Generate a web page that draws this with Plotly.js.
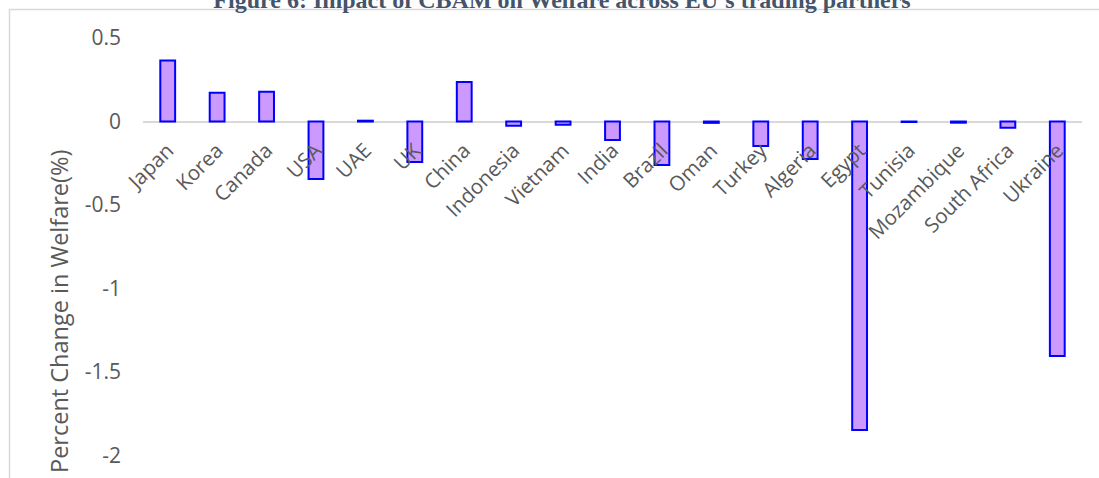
<!DOCTYPE html>
<html>
<head>
<meta charset="utf-8">
<script src="https://cdn.plot.ly/plotly-3.0.1.min.js"></script>
<style>html,body{margin:0;padding:0;background:#fff;}#chart{width:1099px;height:478px;}</style>
</head>
<body>
<div id="chart"></div>
<script>
const countries = ["Japan","Korea","Canada","USA","UAE","UK","China","Indonesia","Vietnam","India","Brazil","Oman","Turkey","Algeria","Egypt","Tunisia","Mozambique","South Africa","Ukraine"];
const welfareChange = [0.365, 0.172, 0.178, -0.345, 0.005, -0.243, 0.236, -0.025, -0.020, -0.110, -0.260, -0.008, -0.147, -0.225, -1.848, -0.003, -0.007, -0.037, -1.405];
const yTickVals = [0.5, 0, -0.5, -1, -1.5, -2];
const yTickText = ["0.5", "0", "-0.5", "-1", "-1.5", "-2"];
const chartTitle = "Figure 6: Impact of CBAM on Welfare across EU\u2019s trading partners";
const yTitle = "Percent Change in Welfare(%)";

const W = 1099, H = 478;
const mL = 143, mR = 17, mT = 20, mB = 0;
const plotW = W - mL - mR;
const plotH = H - mT - mB;
const yTop = 0.608, yBot = -2.135;
const zeroFrac = (0 - yBot) / (yTop - yBot);

const trace = {
  type: "bar",
  x: countries,
  y: welfareChange,
  width: 0.3,
  marker: {color: "#cc99ff", line: {color: "#0000ff", width: 2}},
  hoverinfo: "x+y"
};

const layout = {
  width: W, height: H,
  margin: {l: mL, r: mR, t: mT, b: mB, pad: 0},
  paper_bgcolor: "#ffffff",
  plot_bgcolor: "rgba(0,0,0,0)",
  showlegend: false,
  title: {
    text: "<b>" + chartTitle + "</b>",
    font: {family: "Liberation Serif, Times New Roman, serif", size: 24, color: "#44546a"},
    x: 562 / W, xanchor: "center", xref: "container",
    y: 1.0, yanchor: "middle", yref: "container"
  },
  xaxis: {
    type: "category",
    anchor: "free",
    position: zeroFrac,
    showline: false, showgrid: false, zeroline: false,
    ticks: "",
    tickangle: -45,
    ticklabelstandoff: 12,
    tickfont: {family: "Open Sans, sans-serif", size: 20.5, color: "#595959"},
    automargin: false
  },
  yaxis: {
    range: [yBot, yTop],
    tickvals: yTickVals,
    ticktext: yTickText,
    showgrid: false,
    zeroline: true, zerolinecolor: "#d9d9d9", zerolinewidth: 2,
    showline: false,
    ticks: "",
    ticklabelstandoff: 21,
    tickfont: {family: "Open Sans, sans-serif", size: 21, color: "#595959"},
    automargin: false
  },
  annotations: [{
    text: yTitle, textangle: -90, showarrow: false,
    xref: "paper", yref: "paper",
    x: (59 - mL) / plotW, y: (H - 312 - mB) / plotH,
    xanchor: "center", yanchor: "middle",
    font: {family: "Open Sans, sans-serif", size: 23.5, color: "#595959"}
  }],
  shapes: [{
    type: "rect", xref: "paper", yref: "paper", layer: "below",
    x0: (9.5 - mL) / plotW, x1: 1.1,
    y0: -0.2, y1: (H - 9.5 - mB) / plotH,
    line: {color: "#d9d9d9", width: 1.5}, fillcolor: "rgba(0,0,0,0)"
  }]
};

Plotly.newPlot("chart", [trace], layout, {displayModeBar: false, staticPlot: true});
</script>
</body>
</html>
